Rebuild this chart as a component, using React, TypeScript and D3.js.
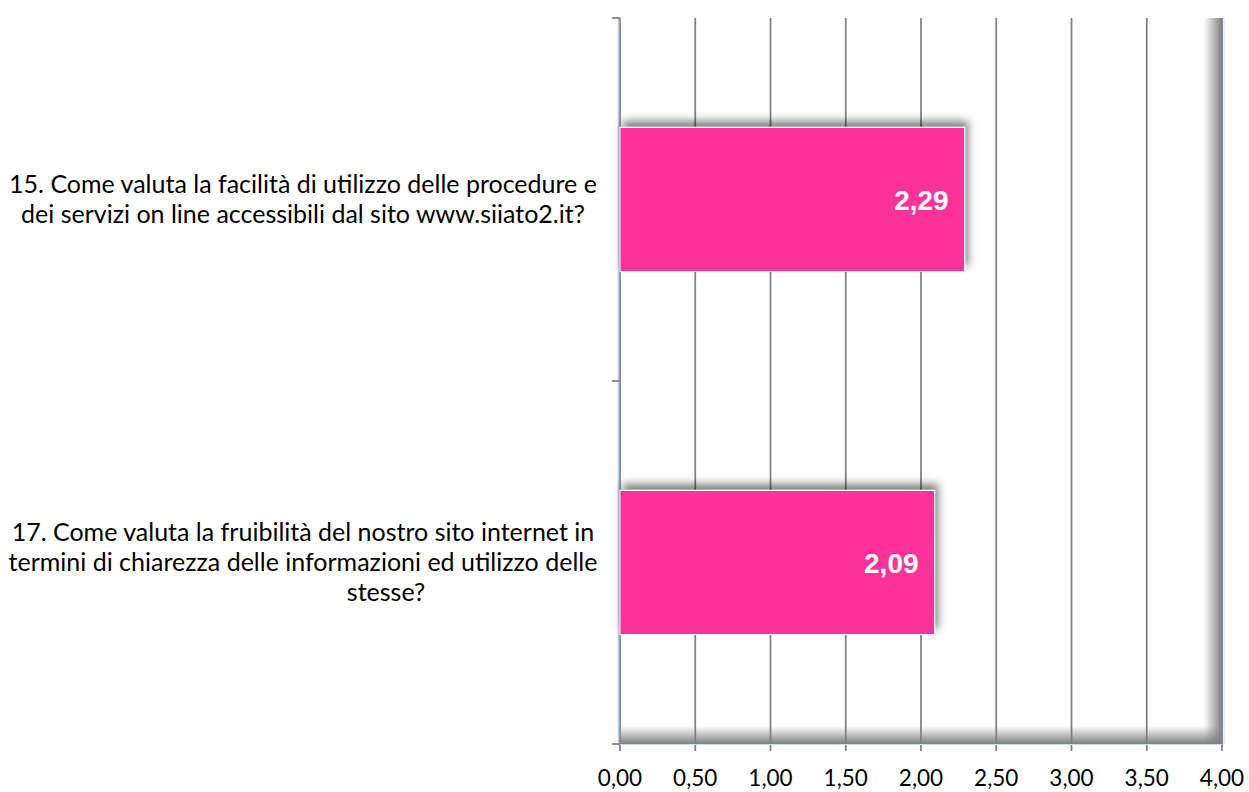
import React from "react";
import * as d3 from "d3";

const categories = [
  ["15. Come valuta la facilità di utilizzo delle procedure e", "dei servizi on line accessibili dal sito www.siiato2.it?"],
  ["17. Come valuta la fruibilità del nostro sito internet in", "termini di chiarezza delle informazioni ed utilizzo delle", "stesse?"],
];
const values = [2.29, 2.09];
const valueLabels = ["2,29", "2,09"];
const ticks = [0, 0.5, 1, 1.5, 2, 2.5, 3, 3.5, 4];

const W = 1249, H = 792;
const L = 620, R = 1222, T = 18, B = 744;

export default function App() {
  const x = d3.scaleLinear().domain([0, 4]).range([L, R]);
  const y = d3.scaleBand<number>().domain(d3.range(categories.length)).range([T, B]).paddingInner(0).paddingOuter(0);
  const bh = y.bandwidth() * 0.397;
  const fmt = (v: number) => v.toFixed(2).replace(".", ",");
  const font = "Lato, sans-serif";
  return (
    <svg width={W} height={H} style={{ position: "absolute", left: 0, top: 0, background: "#fff" }}>
      <defs>
        <linearGradient id="gr" x1="0" x2="1" y1="0" y2="0">
          <stop offset="0" stopColor="#808080" stopOpacity="0" />
          <stop offset="1" stopColor="#808080" stopOpacity="1" />
        </linearGradient>
        <linearGradient id="gb" x1="0" x2="0" y1="0" y2="1">
          <stop offset="0" stopColor="#808080" stopOpacity="0" />
          <stop offset="1" stopColor="#808080" stopOpacity="1" />
        </linearGradient>
        <filter id="sh" x="-10%" y="-30%" width="130%" height="150%">
          <feDropShadow dx="3" dy="-6" stdDeviation="4" floodColor="#000" floodOpacity="0.5" />
        </filter>
        <clipPath id="pc"><rect x={L} y={T} width={R - L} height={B - T} /></clipPath>
      </defs>
      <g clipPath="url(#pc)">
        <rect x={R - 18} y={T} width={18} height={B - T} fill="url(#gr)" />
        <rect x={L} y={B - 18} width={R - L} height={18} fill="url(#gb)" />
      </g>
      {ticks.map((t, i) => (
        <line key={i} x1={x(t)} x2={x(t)} y1={T} y2={B + 7} stroke="#7f7f7f" strokeWidth={1.75} />
      ))}
      <line x1={L - 1.5} x2={L - 1.5} y1={T} y2={B} stroke="#b8d0ee" strokeWidth={1.5} />
      <line x1={R + 2} x2={R + 2} y1={T} y2={B} stroke="#c6dcf5" strokeWidth={1} />
      <line x1={L} x2={R} y1={B + 0.5} y2={B + 0.5} stroke="#c6dcf5" strokeWidth={1} />
      {[T, y.step() + T, B].map((v, i) => (
        <line key={i} x1={L - 8} x2={L} y1={v} y2={v} stroke="#7f7f7f" strokeWidth={1.75} />
      ))}
      {values.map((v, i) => {
        const cy = (y(i) as number) + y.bandwidth() / 2;
        return (
          <g key={i}>
            <rect x={x(0)} y={cy - bh / 2} width={x(v) - x(0)} height={bh} fill="#ff3399" stroke="#fff" strokeWidth={1} filter="url(#sh)" />
            <text x={x(v) - 16} y={cy} dy="0.36em" textAnchor="end" fill="#fff" fontFamily="'Liberation Sans', Arial, sans-serif" fontWeight="bold" fontSize={28}>{valueLabels[i]}</text>
          </g>
        );
      })}
      {categories.map((lines, i) => {
        const cy = (y(i) as number) + y.bandwidth() / 2;
        const lh = 30;
        const start = cy - ((lines.length - 1) * lh) / 2;
        return (
          <text key={i} textAnchor="middle" fontFamily={font} fontSize={25} fill="#000">
            {lines.map((ln, j) => (
              <tspan key={j} x={ln === "stesse?" ? 386 : 303} y={start + j * lh} dy="0.35em">{ln}</tspan>
            ))}
          </text>
        );
      })}
      {ticks.map((t, i) => (
        <text key={i} x={x(t)} y={778} dy="0.35em" textAnchor="middle" fontFamily={font} fontSize={22.5} fill="#000">{fmt(t)}</text>
      ))}
    </svg>
  );
}
